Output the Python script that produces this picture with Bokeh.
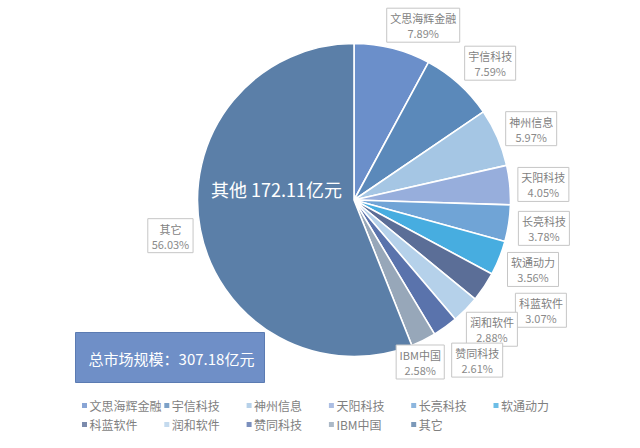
import math
from bokeh.plotting import figure
from bokeh.models import Range1d, ColumnDataSource
from bokeh.core.properties import value
from bokeh.embed import file_html
from bokeh.resources import INLINE

# ---- data ----
companies = ["文思海辉金融", "宇信科技", "神州信息", "天阳科技", "长亮科技", "软通动力",
             "科蓝软件", "润和软件", "赞同科技", "IBM中国", "其它"]
shares = [7.89, 7.59, 5.97, 4.05, 3.78, 3.56, 3.07, 2.88, 2.61, 2.58, 56.03]
total_market = 307.18   # 亿元
other_value = 172.11    # 亿元

# ---- style ----
colors = ["#6B8FCA", "#5B89BA", "#A5C6E4", "#97AEDC", "#70A4D6", "#47ADE0",
          "#5B6E97", "#B5D1EA", "#5A73AC", "#97A7B9", "#5B7FA8"]
label_dist = [188, 193, 191, 190, 192, 192, 217, 189, 202, 175, 187]
label_dang = [7.4, 2.8, 1.6, 0.8, -0.1, -0.6, -3.2, -1.3, -1.9, 4.1, -0.15]
FONT = value("Noto Sans CJK SC")
W, H = 640, 448
cx, cy, R = 353.5, H - 199.5, 156.5

p = figure(width=W, height=H, x_range=Range1d(0, W), y_range=Range1d(0, H),
           output_backend="svg", toolbar_location=None, min_border=0,
           x_axis_location=None, y_axis_location=None)
p.grid.visible = False
p.outline_line_color = None
p.background_fill_color = "white"
p.border_fill_color = "white"

tot = sum(shares)
starts, ends, mids = [], [], []
cum = 0.0
for s in shares:
    starts.append(math.pi / 2 - 2 * math.pi * cum / tot)
    mids.append(360.0 * (cum + s / 2) / tot)
    cum += s
    ends.append(math.pi / 2 - 2 * math.pi * cum / tot)

src = ColumnDataSource(dict(start=starts, end=ends, color=colors, name=companies))
p.wedge(x=cx, y=cy, radius=R, start_angle="start", end_angle="end", direction="clock",
        fill_color="color", line_color="white", line_width=1.6, source=src)


def text_w(t, fs):
    w = 0.0
    for ch in t:
        w += fs if ord(ch) > 0x2E80 else fs * 0.58
    return w


# data labels
lx, ly, lw, names, pcts = [], [], [], [], []
for i, (n, s) in enumerate(zip(companies, shares)):
    th = math.radians(mids[i] + label_dang[i])
    x = cx + label_dist[i] * math.sin(th)
    y = cy + label_dist[i] * math.cos(th)
    pct = f"{s:.2f}%"
    lx.append(x); ly.append(y)
    lw.append(max(text_w(n, 11), text_w(pct, 11)) + 7)
    names.append(n); pcts.append(pct)

p.rect(x=lx, y=ly, width=lw, height=34, fill_color="white",
       line_color="#C6C6C6", line_width=1)
p.text(x=lx, y=[v + 7 for v in ly], text=names, text_font=FONT, text_font_size="11px",
       text_color="#7F7F7F", text_align="center", text_baseline="middle")
p.text(x=lx, y=[v - 8 for v in ly], text=pcts, text_font=FONT, text_font_size="11px",
       text_color="#8A8A8A", text_align="center", text_baseline="middle")

# center annotation
p.text(x=[276], y=[H - 188], text=[f"其他 {other_value}亿元"], text_font=FONT,
       text_font_size="18px", text_color="white", text_align="center",
       text_baseline="middle")

# total box
p.rect(x=[169.5], y=[H - 357], width=189, height=50, fill_color="#6F8FC7",
       line_color="#5B7BB2", line_width=1)
p.text(x=[171], y=[H - 358], text=[f"总市场规模：{total_market}亿元"], text_font=FONT,
       text_font_size="15px", text_color="white", text_align="center",
       text_baseline="middle")

# legend
mx, my = [], []
for i in range(len(companies)):
    row, col = divmod(i, 6)
    mx.append(84 + col * 82.3)
    my.append(H - (405 if row == 0 else 424))
p.rect(x=mx, y=my, width=5, height=5, fill_color=colors, fill_alpha=0.8, line_color=None)
p.text(x=[v + 5 for v in mx], y=my, text=companies, text_font=FONT, text_font_size="12px",
       text_color="#7F7F7F", text_align="left", text_baseline="middle")

open("out.html", "w").write(file_html(p, INLINE))
